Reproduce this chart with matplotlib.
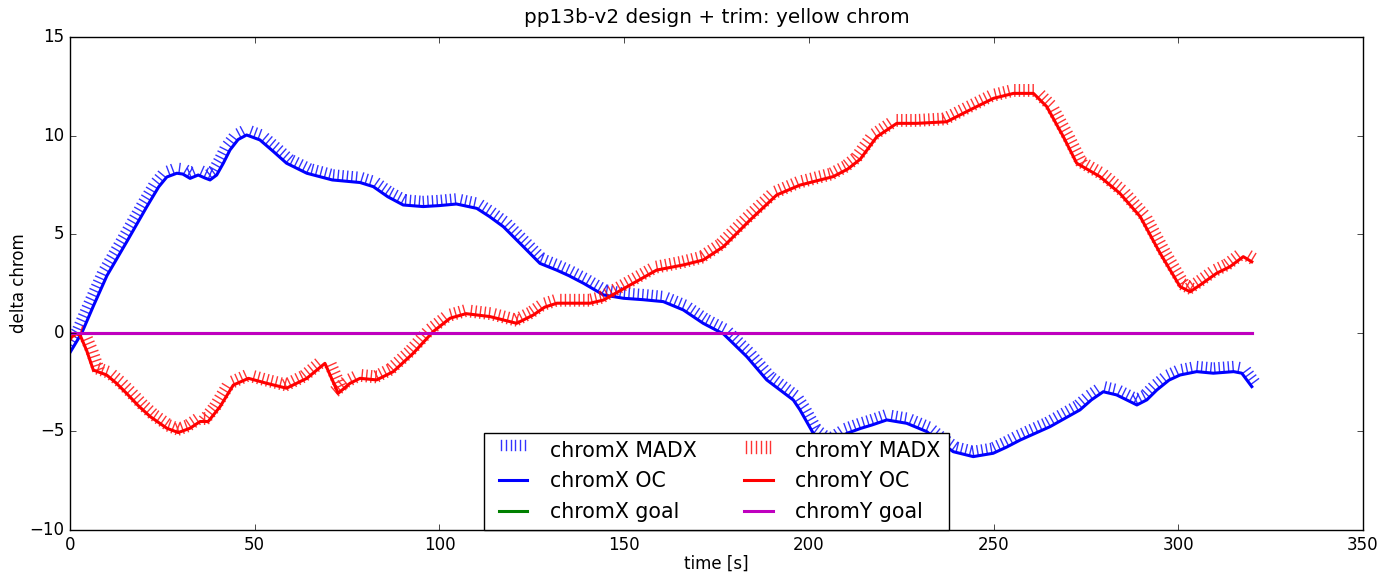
import numpy as np
import matplotlib
matplotlib.use('Agg')
import matplotlib.pyplot as plt
from matplotlib import patheffects

# chromaticity vs time
time_x = [0, 3.2, 6.3, 10, 15.3, 20.8, 24, 26.2, 28.9, 30.5, 32.5, 34.7, 36.5, 37.9, 39.7,
          41.5, 43.3, 45.5, 47.8, 51.4, 55, 58.6, 64.1, 71, 78.5, 82.1, 86, 90.2, 95.6,
          100, 104.6, 110.1, 113.5, 117.3, 122.7, 127.2, 131.7, 135, 139, 144.4, 149.8,
          155, 160.6, 166, 171.4, 176.9, 183.2, 188.6, 195.8, 197.6, 201.2, 205.5, 210.3,
          214, 217, 221.1, 226.5, 231.9, 235.5, 239.1, 244.5, 249.9, 253.5, 257.2, 265.3,
          273.4, 276.5, 279.7, 283.3, 286, 288.8, 291.5, 294.2, 297.5, 300.5, 305, 309.5,
          315, 317.2, 319.9]
chromx_oc = [-1.0, 0.0, 1.35, 2.9, 4.6, 6.4, 7.4, 7.9, 8.09, 8.05, 7.83, 8.0, 7.85, 7.75, 8.0,
             8.6, 9.27, 9.8, 10.03, 9.78, 9.2, 8.6, 8.09, 7.75, 7.62, 7.41, 6.9, 6.48, 6.4,
             6.45, 6.53, 6.31, 5.9, 5.38, 4.37, 3.52, 3.18, 2.9, 2.51, 1.92, 1.75,
             1.68, 1.58, 1.16, 0.48, -0.06, -1.21, -2.39, -3.41, -3.91, -5.1, -5.7, -5.1,
             -4.85, -4.68, -4.42, -4.59, -5.01, -5.55, -6.03, -6.28, -6.11, -5.8, -5.44, -4.76,
             -3.91, -3.4, -2.99, -3.15, -3.4, -3.66, -3.4, -2.9, -2.4, -2.14, -1.97, -2.05,
             -1.97, -2.05, -2.73]
chromx_madx = chromx_oc

time_y = [0, 1.5, 2.7, 4.5, 6.3, 9.9, 12.5, 15.3, 18.5, 21.7, 26.2, 29.3, 32.5, 35.2,
          37.4, 40.6, 44.2, 48.3, 53.2, 58.6, 64.1, 69, 72.6, 75.8, 78.5, 83, 87.5, 92.9,
          98.3, 102.9, 107.2, 113.7, 120.9, 125.4, 128.5, 131.8, 140.8, 144.4, 151.6, 158.8,
          166, 171.4, 176.9, 184.1, 191.3, 197.6, 206.6, 210.5, 213.9, 218.4, 223.8, 229.2,
          237.3, 243.6, 250, 255.4, 260.8, 264.4, 268.9, 272.5, 278.8, 284.2, 289.7, 295.1,
          300.5, 303.2, 305.9, 310.4, 314, 317.6, 319.9]
chromy_oc = [-0.3, -0.05, -0.11, -0.9, -1.89, -2.14, -2.55, -3.07, -3.7, -4.25, -4.84, -5.06, -4.84, -4.5,
             -4.5, -3.75, -2.65, -2.31, -2.56, -2.81, -2.31, -1.55, -3.07, -2.56, -2.31, -2.39, -1.97, -1.04,
             0.06, 0.74, 0.97, 0.82, 0.48, 0.9, 1.3, 1.5, 1.5, 1.66, 2.42, 3.18,
             3.44, 3.69, 4.37, 5.72, 6.99, 7.49, 7.92, 8.3, 8.8, 9.94, 10.62, 10.62,
             10.7, 11.3, 11.89, 12.14, 12.14, 11.47, 9.94, 8.6, 7.92, 7.07, 5.89, 4.03,
             2.34, 2.08, 2.42, 3.02, 3.35, 3.86, 3.6]
chromy_madx = chromy_oc

time_goal = [0, 320]
chromx_goal = [0, 0]
chromy_goal = [0, 0]

plt.style.use('classic')
fig = plt.figure(figsize=(13.84, 5.76), dpi=100, facecolor='white')
ax = fig.add_axes([0.0506, 0.0799, 0.9342, 0.8559])

# MADX drawn as ticks only
ax.plot(time_x, chromx_madx, color='b', lw=1.0, alpha=0.8, label='chromX MADX',
        path_effects=[patheffects.TickedStroke(spacing=3.3, angle=90, length=2.2)])
ax.plot(time_x, chromx_oc, color='b', lw=2.2, label='chromX OC')
ax.plot(time_goal, chromx_goal, color='g', lw=2.2, label='chromX goal')
ax.plot(time_y, chromy_madx, color='r', lw=1.0, alpha=0.8, label='chromY MADX',
        path_effects=[patheffects.TickedStroke(offset=(0, -2), spacing=3.3, angle=90, length=2.5)])
ax.plot(time_y, chromy_oc, color='r', lw=2.2, label='chromY OC')
ax.plot(time_goal, chromy_goal, color='m', lw=2.2, label='chromY goal')

ax.set_xlim(0, 350)
ax.set_ylim(-10, 15)
ax.set_xticks(np.arange(0, 351, 50))
ax.set_yticks(np.arange(-10, 16, 5))
ax.set_title('pp13b-v2 design + trim: yellow chrom', fontsize=14.4, pad=10)
ax.set_xlabel('time [s]', fontsize=12, labelpad=1)
ax.set_ylabel('delta chrom', fontsize=12, labelpad=1)

leg = ax.legend(loc='lower center', ncol=2, fontsize=14.8, borderaxespad=0,
                fancybox=False, framealpha=1)
leg.get_frame().set_edgecolor('black')

fig.savefig('out.png', dpi=100, facecolor='white')
